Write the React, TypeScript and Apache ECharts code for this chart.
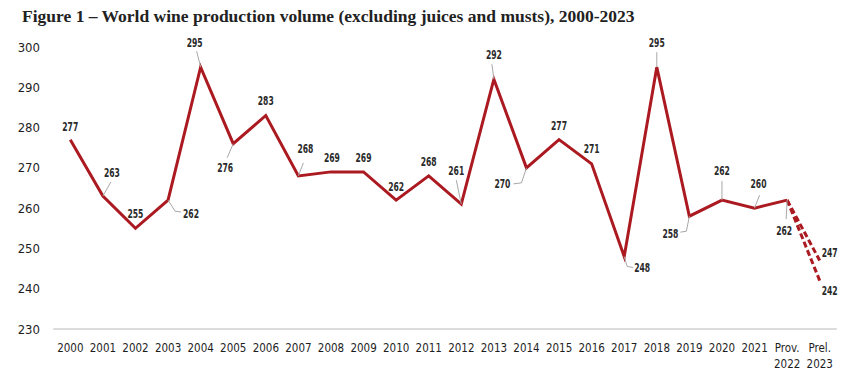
import React, { useEffect, useRef } from "react";
import * as echarts from "echarts";

const categories = [
  "2000", "2001", "2002", "2003", "2004", "2005", "2006", "2007", "2008", "2009",
  "2010", "2011", "2012", "2013", "2014", "2015", "2016", "2017", "2018", "2019",
  "2020", "2021", "Prov.\n2022", "Prel.\n2023",
];

// World wine production (mhl), 2000-2022
const production = [
  277, 263, 255, 262, 295, 276, 283, 268, 269, 269,
  262, 268, 261, 292, 270, 277, 271, 248, 295, 258,
  262, 260, 262,
];

// Preliminary 2023 estimates (high / low)
const estimate2023High = 247;
const estimate2023Low = 242;

const yTicks = { min: 230, max: 300, interval: 10 };

// label placement (pixels, relative to point) and optional leader lines
type LabelCfg = { dx: number; dy: number; leader?: number[][] };
const labelCfg: LabelCfg[] = [
  { dx: 0, dy: -13 },
  { dx: 9, dy: -23, leader: [[0, 0], [8, -14]] },
  { dx: 0, dy: -14 },
  { dx: 23, dy: 14, leader: [[0, 0], [7, 11], [13, 12]] },
  { dx: -6, dy: -24, leader: [[0, 0], [-4, -16]] },
  { dx: -8, dy: 24, leader: [[0, 0], [-6, 14]] },
  { dx: 0, dy: -14 },
  { dx: 7, dy: -27, leader: [[0, 0], [5, -13]] },
  { dx: 1, dy: -14 },
  { dx: 0, dy: -14 },
  { dx: 0, dy: -13 },
  { dx: 0, dy: -14 },
  { dx: -5, dy: -33, leader: [[0, 0], [-5, -24]] },
  { dx: 0, dy: -24, leader: [[0, 0], [-2, -15]] },
  { dx: -24, dy: 16, leader: [[0, 0], [-5, 15], [-13, 16]] },
  { dx: 0, dy: -14 },
  { dx: 0, dy: -15 },
  { dx: 18, dy: 12, leader: [[0, 0], [3, 10], [9, 11]] },
  { dx: 0, dy: -24, leader: [[0, 0], [0, -15]] },
  { dx: -19, dy: 18, leader: [[0, 0], [-3, 15], [-9, 16]] },
  { dx: 0, dy: -29, leader: [[0, 0], [0, -19]] },
  { dx: 4, dy: -24, leader: [[0, 0], [5, -13]] },
  { dx: -3, dy: 31, leader: [[0, 0], [-1, 19]] },
  { dx: 10, dy: -7 },
  { dx: 10, dy: 10 },
];

const RED = "#AC1A21";
const NARROW = '"DejaVu Sans Condensed", "Liberation Sans Narrow", sans-serif';

export default function App() {
  const ref = useRef<HTMLDivElement>(null);

  useEffect(() => {
    if (!ref.current) return;
    const chart = echarts.init(ref.current, undefined, { renderer: "svg" });

    const last = production.length - 1;
    const solidData = [...production, null];
    const dashHigh = categories.map((_, i) =>
      i === last ? production[last] : i === last + 1 ? estimate2023High : null
    );
    const dashLow = categories.map((_, i) =>
      i === last ? production[last] : i === last + 1 ? estimate2023Low : null
    );
    const labelData: number[][] = production.map((v, i) => [i, v]);
    labelData.push([last + 1, estimate2023High]);
    labelData.push([last + 1, estimate2023Low]);

    const option: any = {
      animation: false,
      backgroundColor: "#ffffff",
      title: {
        text: "Figure 1 – World wine production volume (excluding juices and musts), 2000-2023",
        left: 17,
        top: 2,
        textStyle: {
          fontFamily: '"Liberation Serif", "DejaVu Serif", serif',
          fontWeight: "bold",
          fontSize: 17.5,
          color: "#222222",
        },
      },
      grid: { left: 54, right: 14, top: 47, bottom: 51 },
      xAxis: {
        type: "category",
        data: categories,
        boundaryGap: true,
        axisLine: { show: true, lineStyle: { color: "#dcdcdc", width: 2 } },
        axisTick: { show: false },
        axisLabel: {
          interval: 0,
          margin: 11,
          color: "#1e1e1e",
          fontFamily: NARROW,
          fontSize: 11.5,
          fontWeight: "normal",
          lineHeight: 16,
        },
        splitLine: { show: false },
      },
      yAxis: {
        type: "value",
        min: yTicks.min,
        max: yTicks.max,
        interval: yTicks.interval,
        axisLine: { show: false },
        axisTick: { show: false },
        splitLine: { show: false },
        axisLabel: {
          margin: 14,
          color: "#1e1e1e",
          fontFamily: NARROW,
          fontSize: 13,
          fontWeight: "normal",
        },
      },
      series: [
        {
          type: "line",
          data: dashHigh,
          symbol: "none",
          lineStyle: { color: RED, width: 3, type: [6, 3] },
          z: 2,
        },
        {
          type: "line",
          data: dashLow,
          symbol: "none",
          lineStyle: { color: RED, width: 3, type: [6, 3] },
          z: 2,
        },
        {
          type: "line",
          data: solidData,
          symbol: "none",
          lineStyle: { color: RED, width: 3, join: "miter" },
          z: 3,
        },
        {
          type: "custom",
          data: labelData,
          z: 4,
          silent: true,
          renderItem: (params: any, api: any) => {
            const idx = params.dataIndex;
            const cfg = labelCfg[idx] || { dx: 0, dy: -14 };
            const p = api.coord([api.value(0), api.value(1)]);
            const children: any[] = [];
            if (cfg.leader) {
              children.push({
                type: "polyline",
                shape: { points: cfg.leader.map((q) => [p[0] + q[0], p[1] + q[1]]) },
                style: { stroke: "#a8a8a8", lineWidth: 1, fill: null },
              });
            }
            children.push({
              type: "text",
              x: p[0] + cfg.dx,
              y: p[1] + cfg.dy,
              scaleX: 0.74,
              style: {
                text: String(Math.round(api.value(1))),
                fill: "#2a2a2a",
                font: `bold 11.5px ${NARROW}`,
                align: "center",
                verticalAlign: "middle",
              },
            });
            return { type: "group", children };
          },
        },
      ],
    };

    chart.setOption(option);
    return () => chart.dispose();
  }, []);

  return (
    <div
      ref={ref}
      style={{ position: "fixed", left: 0, top: 0, width: 850, height: 380, background: "#fff" }}
    />
  );
}
